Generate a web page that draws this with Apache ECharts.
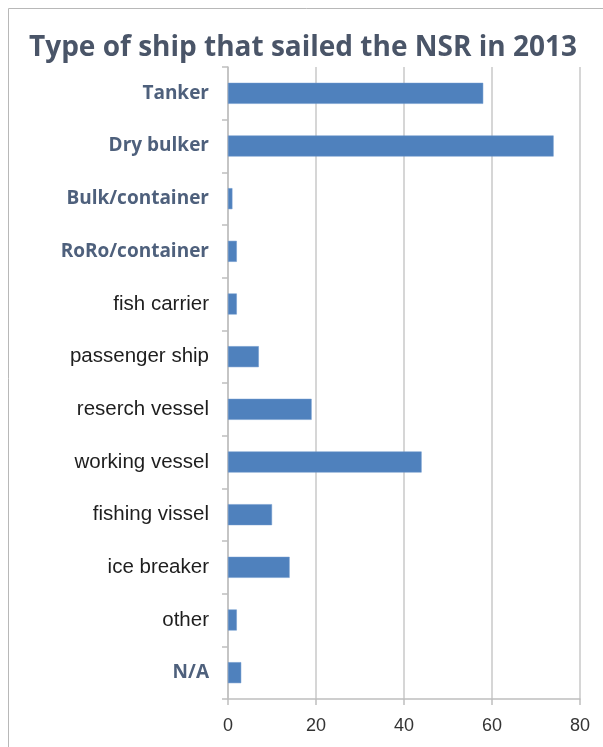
<!DOCTYPE html>
<html>
<head>
<meta charset="utf-8">
<script src="https://cdn.jsdelivr.net/npm/echarts@6/dist/echarts.min.js"></script>
<style>
html,body{margin:0;padding:0;background:#fff;}
#main{width:603px;height:747px;}
</style>
</head>
<body>
<div id="main"></div>
<script>
var categories = ['Tanker','Dry bulker','Bulk/container','RoRo/container','fish carrier','passenger ship','reserch vessel','working vessel','fishing vissel','ice breaker','other','N/A'];
var values = [58,74,1,2,2,7,19,44,10,14,2,3];
var boldLabels = ['Tanker','Dry bulker','Bulk/container','RoRo/container','N/A'];
var xTicks = [0,20,40,60,80];

var catData = [];
for(var i=0;i<categories.length;i++){
    if(boldLabels.indexOf(categories[i]) >= 0){
        catData.push({value:categories[i], textStyle:{fontFamily:'Open Sans', fontWeight:'bold', fontSize:19, color:'#4e607c'}});
    }else{
        catData.push({value:categories[i], textStyle:{fontFamily:'Liberation Sans', fontSize:20.5, color:'#1e1e1e'}});
    }
}

var myChart = echarts.init(document.getElementById('main'));
var option = {
    animation:false,
    title:{
        text:'Type of ship that sailed the NSR in 2013',
        left:24,
        top:29,
        textStyle:{fontFamily:'Open Sans', fontWeight:'bold', fontSize:28, color:'#4a5568'}
    },
    graphic:[{
        type:'rect',
        shape:{x:8.5,y:8.5,width:620,height:760},
        style:{fill:'none',stroke:'#b8b8b8',lineWidth:1}
    }],
    grid:{left:228,right:23,top:67,bottom:48},
    xAxis:{
        type:'value',
        min:xTicks[0],
        max:xTicks[xTicks.length-1],
        interval:20,
        axisLine:{show:true,lineStyle:{color:'#bfbfbf',width:1.5}},
        axisTick:{show:true,length:6,lineStyle:{color:'#bfbfbf',width:1.5}},
        splitLine:{show:true,lineStyle:{color:'#c8c8c8',width:1.5}},
        axisLabel:{fontFamily:'Liberation Sans',fontSize:18,color:'#333',margin:18}
    },
    yAxis:{
        type:'category',
        inverse:true,
        data:catData,
        axisLine:{show:true,lineStyle:{color:'#bfbfbf',width:1.5}},
        axisTick:{show:true,length:6,lineStyle:{color:'#bfbfbf',width:1.5}},
        axisLabel:{margin:19}
    },
    series:[{
        type:'bar',
        data:values,
        barWidth:21,
        itemStyle:{color:'#4f81bd',borderColor:'#6c97cc',borderWidth:0.5}
    }]
};
myChart.setOption(option);
</script>
</body>
</html>
